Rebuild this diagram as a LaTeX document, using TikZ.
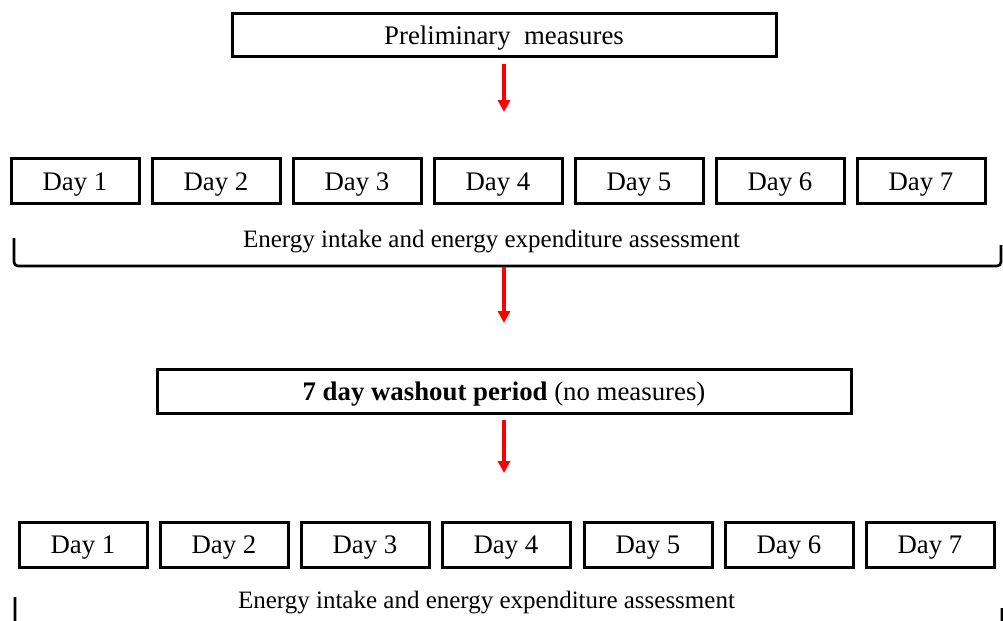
\documentclass[tikz,border=0pt]{standalone}
\usepackage{fontspec}
\setmainfont{Liberation Serif}
\usetikzlibrary{arrows.meta}

\begin{document}
\begin{tikzpicture}[x=0.5pt,y=-0.5pt,
  box/.style={draw,line width=1.5pt,fill=white,inner sep=0pt,text height=9pt,text depth=0pt,font=\fontsize{13.4}{16}\selectfont},
  day/.style={box,minimum width=64pt,minimum height=22.5pt},
  note/.style={inner sep=0pt,anchor=base,font=\fontsize{12.5}{15}\selectfont},
  arr/.style={->,red,line width=2pt},
  brace/.style={line width=1.3pt,rounded corners=2pt},
  >={Triangle[width=6pt,length=6pt]}
]
  \useasboundingbox (0,0) rectangle (1003,621);
  \clip (0,0) rectangle (1003,621);
  \node[box,minimum width=272pt,minimum height=21.5pt] (pre) at (504,35) {Preliminary\ \ measures};
  % first week
  \node[day] (p1) at (75,181) {Day 1};
  \node[day] (p2) at (216,181) {Day 2};
  \node[day] (p3) at (357,181) {Day 3};
  \node[day] (p4) at (498,181) {Day 4};
  \node[day] (p5) at (639,181) {Day 5};
  \node[day] (p6) at (780,181) {Day 6};
  \node[day] (p7) at (921,181) {Day 7};
  \node[note] (ee1) at (491.5,247) {Energy intake and energy expenditure assessment};
  \draw[brace] (14,238) -- (14,266) -- (1001,266) -- (1001,245);
  \node[box,minimum width=347pt,minimum height=22pt] (wash) at (504,391.5) {\textbf{7 day washout period} (no measures)};
  % second week
  \node[day] (q1) at (83,544.5) {Day 1};
  \node[day] (q2) at (224,544.5) {Day 2};
  \node[day] (q3) at (365,544.5) {Day 3};
  \node[day] (q4) at (506,544.5) {Day 4};
  \node[day] (q5) at (648,544.5) {Day 5};
  \node[day] (q6) at (789,544.5) {Day 6};
  \node[day] (q7) at (930,544.5) {Day 7};
  \node[note] (ee2) at (486.5,608) {Energy intake and energy expenditure assessment};
  \draw[brace] (15,597) -- (15,628) -- (1002,628) -- (1002,608);
  % arrows
  \coordinate (t1) at (504,112);
  \coordinate (k1) at (504,267);
  \coordinate (t2) at (504,323);
  \coordinate (t3) at (504,473);
  \draw[arr,shorten <=3pt] (pre) -- (t1);
  \draw[arr] (k1) -- (t2);
  \draw[arr,shorten <=2.5pt] (wash) -- (t3);
\end{tikzpicture}
\end{document}
